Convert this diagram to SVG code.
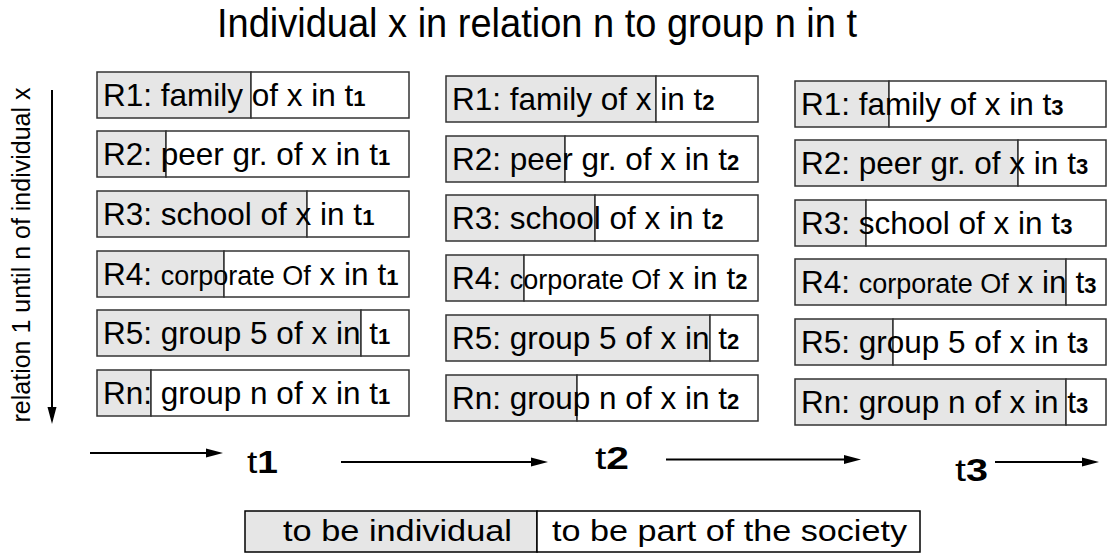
<svg xmlns="http://www.w3.org/2000/svg" width="1107" height="556" viewBox="0 0 1107 556">
<style>
text{font-family:"Liberation Sans",Arial,sans-serif;fill:#000}
.g{fill:#e6e6e6;stroke:#333;stroke-width:1.5}
.w{fill:#fff;stroke:#333;stroke-width:1.5}
.bt{font-size:31.5px}
.sub{font-size:22px;font-weight:bold}
.sm{font-size:27px}
.ar{stroke:#000;stroke-width:2;fill:none;marker-end:url(#ah)}
</style>
<defs>
<marker id="ah" markerUnits="userSpaceOnUse" markerWidth="18" markerHeight="10" refX="1" refY="5" orient="auto">
<path d="M0,0.5 L17,5 L0,9.5 z" fill="#000"/>
</marker>
</defs>
<rect width="1107" height="556" fill="#fff"/>
<text id="title" x="217" y="37" font-size="40" textLength="640" lengthAdjust="spacingAndGlyphs">Individual x in relation n to group n in t</text>

<g id="col1">
<g id="c1r1"><rect class="g" x="97" y="72" width="154" height="46"/><rect class="w" x="251" y="72" width="158" height="46"/><text class="bt" x="103" y="106">R1: family of x in t<tspan class="sub">1</tspan></text></g>
<g id="c1r2"><rect class="g" x="97" y="131" width="69" height="46"/><rect class="w" x="166" y="131" width="243" height="46"/><text class="bt" x="103" y="165">R2: peer gr. of x in t<tspan class="sub">1</tspan></text></g>
<g id="c1r3"><rect class="g" x="97" y="191" width="210" height="46"/><rect class="w" x="307" y="191" width="102" height="46"/><text class="bt" x="103" y="225">R3: school of x in t<tspan class="sub">1</tspan></text></g>
<g id="c1r4"><rect class="g" x="97" y="251" width="127" height="46"/><rect class="w" x="224" y="251" width="185" height="46"/><text class="bt" x="103" y="285">R4: <tspan class="sm">corporate Of</tspan> x in t<tspan class="sub">1</tspan></text></g>
<g id="c1r5"><rect class="g" x="97" y="310" width="264" height="46"/><rect class="w" x="361" y="310" width="48" height="46"/><text class="bt" x="103" y="344">R5: group 5 of x in t<tspan class="sub">1</tspan></text></g>
<g id="c1rn"><rect class="g" x="97" y="370" width="54" height="46"/><rect class="w" x="151" y="370" width="258" height="46"/><text class="bt" x="103" y="404">Rn: group n of x in t<tspan class="sub">1</tspan></text></g>
</g>

<g id="col2">
<g id="c2r1"><rect class="g" x="446" y="76" width="210" height="46"/><rect class="w" x="656" y="76" width="102" height="46"/><text class="bt" x="452" y="110">R1: family of x in t<tspan class="sub">2</tspan></text></g>
<g id="c2r2"><rect class="g" x="446" y="136" width="119" height="46"/><rect class="w" x="565" y="136" width="193" height="46"/><text class="bt" x="452" y="170">R2: peer gr. of x in t<tspan class="sub">2</tspan></text></g>
<g id="c2r3"><rect class="g" x="446" y="195" width="149" height="46"/><rect class="w" x="595" y="195" width="163" height="46"/><text class="bt" x="452" y="229">R3: school of x in t<tspan class="sub">2</tspan></text></g>
<g id="c2r4"><rect class="g" x="446" y="255" width="78" height="46"/><rect class="w" x="524" y="255" width="234" height="46"/><text class="bt" x="452" y="289">R4: <tspan class="sm">corporate Of</tspan> x in t<tspan class="sub">2</tspan></text></g>
<g id="c2r5"><rect class="g" x="446" y="315" width="264" height="46"/><rect class="w" x="710" y="315" width="48" height="46"/><text class="bt" x="452" y="349">R5: group 5 of x in t<tspan class="sub">2</tspan></text></g>
<g id="c2rn"><rect class="g" x="446" y="375" width="131" height="46"/><rect class="w" x="577" y="375" width="181" height="46"/><text class="bt" x="452" y="409">Rn: group n of x in t<tspan class="sub">2</tspan></text></g>
</g>

<g id="col3">
<g id="c3r1"><rect class="g" x="795" y="81" width="94" height="46"/><rect class="w" x="889" y="81" width="217" height="46"/><text class="bt" x="801" y="115">R1: family of x in t<tspan class="sub">3</tspan></text></g>
<g id="c3r2"><rect class="g" x="795" y="140" width="223" height="46"/><rect class="w" x="1018" y="140" width="88" height="46"/><text class="bt" x="801" y="174">R2: peer gr. of x in t<tspan class="sub">3</tspan></text></g>
<g id="c3r3"><rect class="g" x="795" y="200" width="71" height="46"/><rect class="w" x="866" y="200" width="240" height="46"/><text class="bt" x="801" y="234">R3: school of x in t<tspan class="sub">3</tspan></text></g>
<g id="c3r4"><rect class="g" x="795" y="259" width="271" height="46"/><rect class="w" x="1066" y="259" width="40" height="46"/><text class="bt" x="801" y="293">R4: <tspan class="sm">corporate Of</tspan> x in t<tspan class="sub">3</tspan></text></g>
<g id="c3r5"><rect class="g" x="795" y="319" width="98" height="46"/><rect class="w" x="893" y="319" width="213" height="46"/><text class="bt" x="801" y="353">R5: group 5 of x in t<tspan class="sub">3</tspan></text></g>
<g id="c3rn"><rect class="g" x="795" y="379" width="271" height="46"/><rect class="w" x="1066" y="379" width="40" height="46"/><text class="bt" x="801" y="413">Rn: group n of x in t<tspan class="sub">3</tspan></text></g>
</g>

<g id="axis-label">
<text transform="translate(30,255) rotate(-90)" font-size="25" text-anchor="middle">relation 1 until n of individual x</text>
</g>

<g id="time-labels">
<text x="247" y="473" font-size="31" textLength="31" lengthAdjust="spacingAndGlyphs">t<tspan font-weight="bold">1</tspan></text>
<text x="595" y="469" font-size="31" textLength="34" lengthAdjust="spacingAndGlyphs">t<tspan font-weight="bold">2</tspan></text>
<text x="955" y="481" font-size="31" textLength="33" lengthAdjust="spacingAndGlyphs">t<tspan font-weight="bold">3</tspan></text>
</g>

<g id="connectors">
<line class="ar" x1="52" y1="90" x2="52" y2="408"/>
<line class="ar" x1="90" y1="453" x2="207" y2="453"/>
<line class="ar" x1="341" y1="462" x2="532" y2="462"/>
<line class="ar" x1="666" y1="459.5" x2="845" y2="459.5"/>
<line class="ar" x1="995" y1="462" x2="1083" y2="462"/>
</g>

<g id="legend">
<rect class="g" x="245" y="511" width="292" height="41" style="stroke:#000"/>
<rect class="w" x="537" y="511" width="383" height="41" style="stroke:#000"/>
<text x="283" y="541" font-size="30" textLength="229" lengthAdjust="spacingAndGlyphs">to be individual</text>
<text x="552" y="541" font-size="30" textLength="355" lengthAdjust="spacingAndGlyphs">to be part of the society</text>
</g>
</svg>
